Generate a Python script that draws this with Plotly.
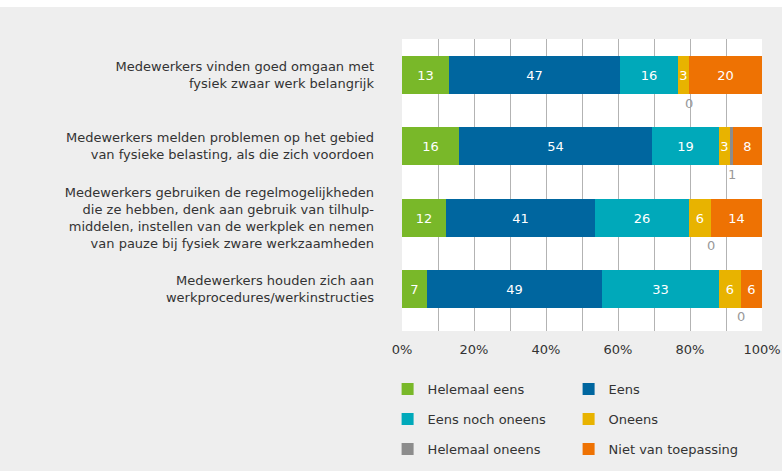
import plotly.graph_objects as go

# Statements (top to bottom)
statements = [
    "Medewerkers vinden goed omgaan met<br>fysiek zwaar werk belangrijk",
    "Medewerkers melden problemen op het gebied<br>van fysieke belasting, als die zich voordoen",
    "Medewerkers gebruiken de regelmogelijkheden<br>die ze hebben, denk aan gebruik van tilhulp-<br>middelen, instellen van de werkplek en nemen<br>van pauze bij fysiek zware werkzaamheden",
    "Medewerkers houden zich aan<br>werkprocedures/werkinstructies",
]

# Answer categories and their percentages per statement
series_names = ["Helemaal eens", "Eens", "Eens noch oneens", "Oneens",
                "Helemaal oneens", "Niet van toepassing"]
helemaal_eens = [13, 16, 12, 7]
eens = [47, 54, 41, 49]
eens_noch_oneens = [16, 19, 26, 33]
oneens = [3, 3, 6, 6]
helemaal_oneens = [0, 1, 0, 0]
niet_van_toepassing = [20, 8, 14, 6]

x_ticks = [0, 20, 40, 60, 80, 100]
x_tick_labels = ["0%", "20%", "40%", "60%", "80%", "100%"]
grid_ticks = [10, 20, 30, 40, 50, 60, 70, 80, 90]

series_values = [helemaal_eens, eens, eens_noch_oneens, oneens,
                 helemaal_oneens, niet_van_toepassing]
colors = ["#79b829", "#00669f", "#00a9ba", "#e8b300", "#8c8c8c", "#ee7203"]
legend_ids = ["legend", "legend", "legend2", "legend2", "legend3", "legend3"]

FONT = "DejaVu Sans"
TEXT = "#333333"
BG = "#eeeeee"

ypos = list(range(len(statements)))

fig = go.Figure()
for name, vals, col, lg in zip(series_names, series_values, colors, legend_ids):
    show_inside = name != "Helemaal oneens"
    fig.add_trace(go.Bar(
        y=ypos, x=vals, name=name, orientation="h",
        marker=dict(color=col, line=dict(width=0)),
        width=0.533,
        text=[str(v) for v in vals] if show_inside else None,
        textposition="inside" if show_inside else "none",
        insidetextanchor="middle",
        textangle=0,
        textfont=dict(color="white", size=13, family=FONT),
        legend=lg,
        hoverinfo="name+x",
    ))

# Small values of "Helemaal oneens" are labelled just below each bar
for i in ypos:
    row = [s[i] for s in series_values]
    total = sum(row)
    before = sum(row[:4])
    xc = (before + row[4] / 2) / total * 100
    fig.add_annotation(
        x=xc, y=i, xref="x", yref="y", text=str(row[4]), showarrow=False,
        yshift=-28, font=dict(color="#999999", size=13, family=FONT),
    )

# Thin white strip along the top edge of the page
fig.add_shape(type="rect", xref="paper", yref="paper",
              x0=-2, x1=2, y0=1.1096, y1=1.2, fillcolor="white",
              line=dict(width=0), layer="below")

legend_common = dict(
    orientation="h", xanchor="left", yanchor="middle",
    entrywidth=136, entrywidthmode="pixels", traceorder="normal",
    font=dict(size=13, color=TEXT, family=FONT),
    bgcolor="rgba(0,0,0,0)", itemclick=False, itemdoubleclick=False,
)

fig.update_layout(
    width=782, height=471,
    margin=dict(l=402, r=20, t=39, b=140, autoexpand=False),
    paper_bgcolor=BG, plot_bgcolor="white",
    barmode="stack", barnorm="percent",
    bargap=0,
    font=dict(family=FONT, size=13, color=TEXT),
    uniformtext=dict(minsize=13, mode="show"),
    showlegend=True,
    legend=dict(x=-0.04, y=-0.1986, **legend_common),
    legend2=dict(x=-0.04, y=-0.3014, **legend_common),
    legend3=dict(x=-0.04, y=-0.404, **legend_common),
    xaxis=dict(
        range=[0, 100], tickvals=x_ticks, ticktext=x_tick_labels,
        showgrid=False, zeroline=False, showline=False, ticks="",
        ticklabelstandoff=9,
        tickfont=dict(size=13, color=TEXT, family=FONT),
        minor=dict(tickvals=grid_ticks, showgrid=True,
                   gridcolor="#b3b3b3", gridwidth=1, ticks=""),
    ),
    yaxis=dict(
        range=[3.589, -0.505], tickvals=ypos, ticktext=statements,
        showgrid=False, zeroline=False, showline=False, ticks="",
        ticklabelstandoff=27,
        tickfont=dict(size=13, color=TEXT, family=FONT),
    ),
)

fig.write_html("out.html")
